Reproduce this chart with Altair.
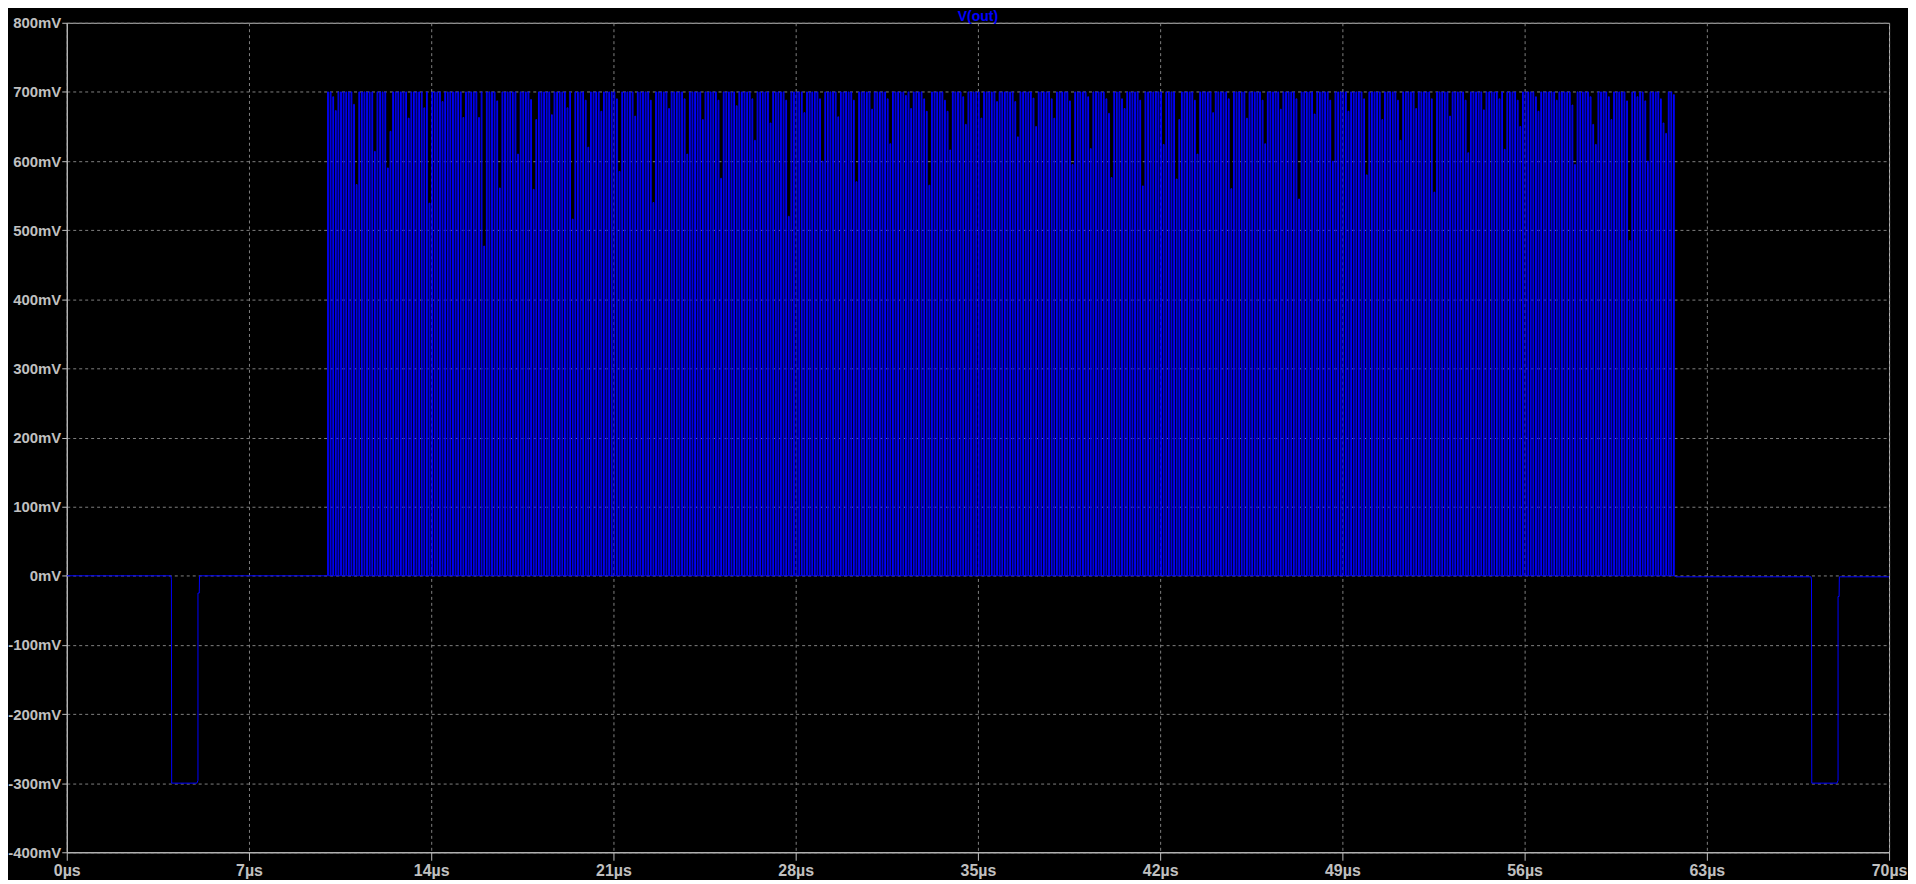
import altair as alt
import pandas as pd

# ---- axes ----
x_ticks_us = [0, 7, 14, 21, 28, 35, 42, 49, 56, 63, 70]
y_ticks_mv = [-400, -300, -200, -100, 0, 100, 200, 300, 400, 500, 600, 700, 800]

# ---- waveform before the burst (negative pulse near 4 us) ----
pre_t_us = [0.0, 4.00, 4.02, 4.03, 5.00, 5.04, 5.04, 5.09, 5.10, 10.02]
pre_v_mv = [0.0, 0.0, -5.0, -300.0, -300.0, -296.0, -25.0, -25.0, 0.0, 0.0]

# ---- burst: rising-edge times (us) and pulse tops (mV) ----
burst_on_us = [
    10.02, 10.12, 10.22, 10.32, 10.42, 10.52, 10.62, 10.72, 10.82, 10.92,
    11.02, 11.12, 11.22, 11.32, 11.42, 11.52, 11.62, 11.72, 11.82, 11.92,
    12.02, 12.12, 12.22, 12.32, 12.42, 12.52, 12.62, 12.72, 12.82, 12.92,
    13.02, 13.12, 13.22, 13.32, 13.42, 13.52, 13.62, 13.72, 13.82, 13.92,
    14.02, 14.12, 14.22, 14.32, 14.42, 14.52, 14.62, 14.72, 14.82, 14.92,
    15.02, 15.12, 15.22, 15.32, 15.42, 15.52, 15.62, 15.72, 15.82, 15.92,
    16.02, 16.12, 16.22, 16.32, 16.42, 16.52, 16.62, 16.72, 16.82, 16.92,
    17.02, 17.12, 17.22, 17.32, 17.42, 17.52, 17.62, 17.72, 17.82, 17.92,
    18.02, 18.12, 18.22, 18.32, 18.42, 18.52, 18.62, 18.72, 18.82, 18.92,
    19.02, 19.12, 19.22, 19.32, 19.42, 19.52, 19.62, 19.72, 19.82, 19.92,
    20.02, 20.12, 20.22, 20.32, 20.42, 20.52, 20.62, 20.72, 20.82, 20.92,
    21.02, 21.12, 21.22, 21.32, 21.42, 21.52, 21.62, 21.72, 21.82, 21.92,
    22.02, 22.12, 22.22, 22.32, 22.42, 22.52, 22.62, 22.72, 22.82, 22.92,
    23.02, 23.12, 23.22, 23.32, 23.42, 23.52, 23.62, 23.72, 23.82, 23.92,
    24.02, 24.12, 24.22, 24.32, 24.42, 24.52, 24.62, 24.72, 24.82, 24.92,
    25.02, 25.12, 25.22, 25.32, 25.42, 25.52, 25.62, 25.72, 25.82, 25.92,
    26.02, 26.12, 26.22, 26.32, 26.42, 26.52, 26.62, 26.72, 26.82, 26.92,
    27.02, 27.12, 27.22, 27.32, 27.42, 27.52, 27.62, 27.72, 27.82, 27.92,
    28.02, 28.12, 28.22, 28.32, 28.42, 28.52, 28.62, 28.72, 28.82, 28.92,
    29.02, 29.12, 29.22, 29.32, 29.42, 29.52, 29.62, 29.72, 29.82, 29.92,
    30.02, 30.12, 30.22, 30.32, 30.42, 30.52, 30.62, 30.72, 30.82, 30.92,
    31.02, 31.12, 31.22, 31.32, 31.42, 31.52, 31.62, 31.72, 31.82, 31.92,
    32.02, 32.12, 32.22, 32.32, 32.42, 32.52, 32.62, 32.72, 32.82, 32.92,
    33.02, 33.12, 33.22, 33.32, 33.42, 33.52, 33.62, 33.72, 33.82, 33.92,
    34.02, 34.12, 34.22, 34.32, 34.42, 34.52, 34.62, 34.72, 34.82, 34.92,
    35.02, 35.12, 35.22, 35.32, 35.42, 35.52, 35.62, 35.72, 35.82, 35.92,
    36.02, 36.12, 36.22, 36.32, 36.42, 36.52, 36.62, 36.72, 36.82, 36.92,
    37.02, 37.12, 37.22, 37.32, 37.42, 37.52, 37.62, 37.72, 37.82, 37.92,
    38.02, 38.12, 38.22, 38.32, 38.42, 38.52, 38.62, 38.72, 38.82, 38.92,
    39.02, 39.12, 39.22, 39.32, 39.42, 39.52, 39.62, 39.72, 39.82, 39.92,
    40.02, 40.12, 40.22, 40.32, 40.42, 40.52, 40.62, 40.72, 40.82, 40.92,
    41.02, 41.12, 41.22, 41.32, 41.42, 41.52, 41.62, 41.72, 41.82, 41.92,
    42.02, 42.12, 42.22, 42.32, 42.42, 42.52, 42.62, 42.72, 42.82, 42.92,
    43.02, 43.12, 43.22, 43.32, 43.42, 43.52, 43.62, 43.72, 43.82, 43.92,
    44.02, 44.12, 44.22, 44.32, 44.42, 44.52, 44.62, 44.72, 44.82, 44.92,
    45.02, 45.12, 45.22, 45.32, 45.42, 45.52, 45.62, 45.72, 45.82, 45.92,
    46.02, 46.12, 46.22, 46.32, 46.42, 46.52, 46.62, 46.72, 46.82, 46.92,
    47.02, 47.12, 47.22, 47.32, 47.42, 47.52, 47.62, 47.72, 47.82, 47.92,
    48.02, 48.12, 48.22, 48.32, 48.42, 48.52, 48.62, 48.72, 48.82, 48.92,
    49.02, 49.12, 49.22, 49.32, 49.42, 49.52, 49.62, 49.72, 49.82, 49.92,
    50.02, 50.12, 50.22, 50.32, 50.42, 50.52, 50.62, 50.72, 50.82, 50.92,
    51.02, 51.12, 51.22, 51.32, 51.42, 51.52, 51.62, 51.72, 51.82, 51.92,
    52.02, 52.12, 52.22, 52.32, 52.42, 52.52, 52.62, 52.72, 52.82, 52.92,
    53.02, 53.12, 53.22, 53.32, 53.42, 53.52, 53.62, 53.72, 53.82, 53.92,
    54.02, 54.12, 54.22, 54.32, 54.42, 54.52, 54.62, 54.72, 54.82, 54.92,
    55.02, 55.12, 55.22, 55.32, 55.42, 55.52, 55.62, 55.72, 55.82, 55.92,
    56.02, 56.12, 56.22, 56.32, 56.42, 56.52, 56.62, 56.72, 56.82, 56.92,
    57.02, 57.12, 57.22, 57.32, 57.42, 57.52, 57.62, 57.72, 57.82, 57.92,
    58.02, 58.12, 58.22, 58.32, 58.42, 58.52, 58.62, 58.72, 58.82, 58.92,
    59.02, 59.12, 59.22, 59.32, 59.42, 59.52, 59.62, 59.72, 59.82, 59.92,
    60.02, 60.12, 60.22, 60.32, 60.42, 60.52, 60.62, 60.72, 60.82, 60.92,
    61.02, 61.12, 61.22, 61.32, 61.42, 61.52, 61.62, 61.72,
]
burst_peak_mv = [
    700, 700, 693, 673, 700, 700, 700, 700, 700, 700, 682, 566, 700, 700, 700, 700, 700, 700, 614, 700,
    700, 700, 700, 590, 643, 700, 700, 700, 700, 700, 700, 662, 700, 700, 700, 700, 700, 677, 700, 539,
    700, 700, 700, 700, 686, 700, 700, 700, 700, 700, 700, 700, 663, 700, 700, 700, 700, 700, 663, 700,
    477, 700, 700, 700, 700, 687, 561, 700, 700, 700, 700, 700, 700, 610, 700, 700, 700, 700, 689, 559,
    660, 700, 700, 700, 700, 700, 667, 700, 700, 700, 700, 700, 677, 700, 516, 700, 700, 700, 700, 688,
    620, 700, 700, 700, 700, 672, 700, 700, 700, 700, 700, 690, 585, 700, 700, 700, 700, 700, 665, 700,
    700, 700, 700, 700, 688, 540, 700, 700, 700, 700, 700, 676, 700, 700, 700, 700, 700, 690, 610, 700,
    700, 700, 700, 700, 660, 700, 700, 700, 700, 700, 688, 575, 700, 700, 700, 700, 700, 680, 700, 700,
    700, 700, 700, 690, 630, 700, 700, 700, 700, 700, 655, 700, 700, 700, 700, 700, 688, 520, 700, 700,
    700, 700, 700, 670, 700, 700, 700, 700, 700, 690, 600, 700, 700, 700, 700, 700, 664, 700, 700, 700,
    700, 700, 688, 570, 700, 700, 700, 700, 700, 675, 700, 700, 700, 700, 700, 690, 625, 700, 700, 700,
    700, 700, 695, 700, 676, 700, 700, 700, 700, 690, 672, 565, 700, 700, 700, 700, 700, 688, 672, 616,
    700, 700, 700, 700, 693, 653, 700, 700, 700, 700, 700, 662, 700, 700, 700, 700, 700, 686, 700, 700,
    700, 700, 700, 700, 686, 635, 700, 700, 700, 700, 700, 691, 650, 700, 700, 700, 700, 700, 690, 662,
    700, 700, 700, 700, 700, 687, 595, 700, 700, 700, 700, 700, 693, 618, 700, 700, 700, 700, 700, 690,
    669, 576, 700, 700, 700, 690, 676, 700, 700, 700, 700, 700, 688, 564, 700, 700, 700, 700, 700, 700,
    700, 624, 700, 700, 700, 700, 574, 660, 700, 700, 700, 700, 700, 688, 610, 700, 700, 700, 700, 700,
    670, 700, 700, 700, 700, 700, 690, 560, 700, 700, 700, 700, 700, 662, 700, 700, 700, 700, 700, 688,
    625, 700, 700, 700, 700, 700, 675, 700, 700, 700, 700, 700, 690, 545, 700, 700, 700, 700, 700, 668,
    700, 700, 700, 700, 700, 688, 600, 700, 700, 700, 700, 700, 672, 700, 700, 700, 700, 700, 690, 580,
    700, 700, 700, 700, 700, 660, 700, 700, 700, 700, 700, 688, 630, 700, 700, 700, 700, 700, 676, 700,
    700, 700, 700, 700, 690, 555, 700, 700, 700, 700, 700, 665, 700, 700, 700, 700, 700, 688, 612, 700,
    700, 700, 700, 700, 674, 700, 700, 700, 700, 700, 690, 700, 617, 700, 700, 700, 700, 688, 650, 700,
    700, 700, 700, 700, 693, 672, 700, 700, 700, 700, 700, 700, 688, 700, 700, 700, 700, 700, 681, 595,
    700, 700, 700, 700, 700, 693, 653, 624, 700, 700, 700, 700, 693, 660, 700, 700, 700, 700, 700, 687,
    485, 700, 700, 693, 700, 700, 687, 600, 700, 700, 700, 700, 690, 655, 640, 700, 700, 696,
]
burst_high_time_us = 0.03

# ---- waveform after the burst (negative pulse near 67 us) ----
post_t_us = [61.82, 67.00, 67.02, 67.03, 68.00, 68.04, 68.04, 68.08, 68.09, 70.0]
post_v_mv = [-1.5, -1.5, -6.0, -300.0, -300.0, -296.0, -30.0, -30.0, -1.5, -1.5]

# ---- build the ordered point table ----
rows = []
for t, v in zip(pre_t_us, pre_v_mv):
    rows.append((t, v))
for t_on, peak in zip(burst_on_us, burst_peak_mv):
    t_off = t_on + burst_high_time_us
    rows.extend([(t_on, 0.0), (t_on, peak), (t_off, peak), (t_off, 0.0)])
for t, v in zip(post_t_us, post_v_mv):
    rows.append((t, v))
df = pd.DataFrame(rows, columns=["t", "v"])
df["seq"] = range(len(df))

FONT = "Liberation Sans"
AX = "#c0c0c0"

line = alt.Chart(df).mark_line(color="#0000ff", strokeWidth=1, clip=True).encode(
    x=alt.X(
        "t:Q",
        title=None,
        scale=alt.Scale(domain=[0, 70], nice=False, zero=False),
        axis=alt.Axis(
            values=x_ticks_us,
            labelExpr="datum.value + 'µs'",
            labelFontSize=16,
            tickSize=8,
            labelPadding=2,
        ),
    ),
    y=alt.Y(
        "v:Q",
        title=None,
        scale=alt.Scale(domain=[-400, 800], nice=False, zero=False),
        axis=alt.Axis(
            values=y_ticks_mv,
            labelExpr="datum.value + 'mV'",
            labelFontSize=15,
            tickSize=5,
            labelPadding=1,
        ),
    ),
    order=alt.Order("seq:Q"),
)

chart = (
    line.properties(
        width=1830,
        height=833,
        title=alt.TitleParams(
            "V(out)",
            color="#0000ff",
            font=FONT,
            fontSize=14,
            fontWeight="bold",
            anchor="middle",
            baseline="top",
            offset=4,
            dy=12,
        ),
        padding={"left": 59, "top": 13, "right": 19, "bottom": 26},
        autosize=alt.AutoSizeParams(type="none"),
        background="#000000",
    )
    .configure_view(stroke=AX, strokeWidth=1, fill="#000000")
    .configure_axis(
        labelFont=FONT,
        labelFontWeight="bold",
        labelColor=AX,
        labelFlush=False,
        labelOverlap=False,
        tickColor=AX,
        tickWidth=1,
        domainColor=AX,
        domainWidth=1,
        grid=True,
        gridColor="#808080",
        gridDash=[3, 3],
        gridWidth=1,
        gridOpacity=1,
    )
)

chart.save("out.html", embed_options={"renderer": "svg", "actions": False})
